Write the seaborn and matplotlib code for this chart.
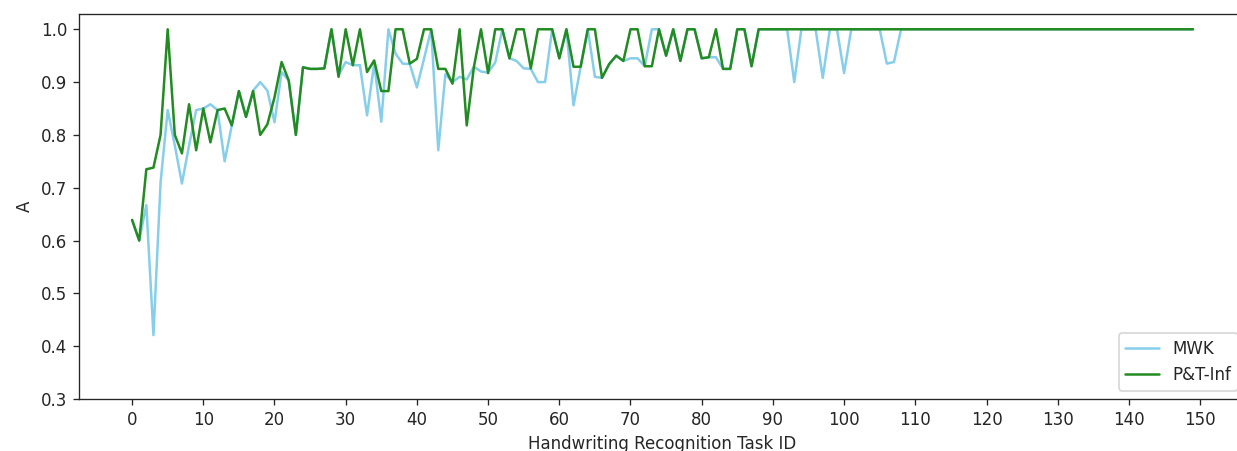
import numpy as np
import pandas as pd
import matplotlib
matplotlib.use('Agg')
import matplotlib.pyplot as plt
import seaborn as sns

# accuracy per task (tasks 0..149)
mwk = [0.639, 0.600, 0.667, 0.421, 0.710, 0.847, 0.780, 0.708, 0.780, 0.847,
       0.850, 0.858, 0.847, 0.750, 0.818, 0.883, 0.834, 0.884, 0.900, 0.884,
       0.824, 0.919, 0.903, 0.800, 0.928, 0.925, 0.925, 0.926, 1.000, 0.913,
       0.938, 0.932, 0.932, 0.837, 0.935, 0.825, 1.000, 0.954, 0.935, 0.934,
       0.890, 0.944, 1.000, 0.771, 0.915, 0.900, 0.910, 0.905, 0.929, 0.920,
       0.918, 0.937, 1.000, 0.945, 0.940, 0.926, 0.925, 0.900, 0.900, 1.000,
       0.945, 1.000, 0.856, 0.929, 1.000, 0.910, 0.908, 0.934, 0.950, 0.940,
       0.945, 0.945, 0.930, 1.000, 1.000, 0.950, 1.000, 0.940, 1.000, 1.000,
       0.945, 0.947, 0.947, 0.925, 0.925, 1.000, 1.000, 0.930, 1.000, 1.000,
       1.000, 1.000, 1.000, 0.900, 1.000, 1.000, 1.000, 0.908, 1.000, 1.000,
       0.917, 1.000, 1.000, 1.000, 1.000, 1.000, 0.935, 0.938] + [1.000] * 42

pt_inf = [0.639, 0.600, 0.735, 0.738, 0.800, 1.000, 0.800, 0.765, 0.858, 0.771,
          0.850, 0.786, 0.847, 0.850, 0.818, 0.883, 0.834, 0.883, 0.800, 0.820,
          0.871, 0.938, 0.903, 0.800, 0.928, 0.925, 0.925, 0.926, 1.000, 0.910,
          1.000, 0.932, 1.000, 0.919, 0.941, 0.883, 0.883, 1.000, 1.000, 0.935,
          0.944, 1.000, 1.000, 0.925, 0.925, 0.897, 1.000, 0.818, 0.928, 1.000,
          0.917, 1.000, 1.000, 0.945, 1.000, 1.000, 0.926, 1.000, 1.000, 1.000,
          0.945, 1.000, 0.929, 0.929, 1.000, 1.000, 0.908, 0.934, 0.950, 0.940,
          1.000, 1.000, 0.930, 0.930, 1.000, 0.950, 1.000, 0.940, 1.000, 1.000,
          0.945, 0.947, 1.000, 0.925, 0.925, 1.000, 1.000, 0.930] + [1.000] * 62

task_id = list(range(len(mwk)))

df = pd.DataFrame({
    'task': task_id * 2,
    'acc': mwk + pt_inf,
    'method': ['MWK'] * len(mwk) + ['P&T-Inf'] * len(pt_inf),
})

sns.set_style('ticks')
dpi = 120
fig = plt.figure(figsize=(1237 / dpi, 451 / dpi), dpi=dpi)
ax = fig.add_axes([0.0639, 0.1153, 0.9434, 0.8537])

sns.lineplot(data=df, x='task', y='acc', hue='method',
             palette={'MWK': 'skyblue', 'P&T-Inf': 'forestgreen'},
             linewidth=1.5, ax=ax)

ax.set_ylim(bottom=0.3)
ax.set_xticks(np.arange(0, 151, 10))
ax.set_yticks(np.arange(0.3, 1.01, 0.1))
ax.set_xlabel('Handwriting Recognition Task ID')
ax.set_ylabel('A')
ax.legend(loc='lower right', title=None)

fig.savefig('out.png', dpi=dpi)
